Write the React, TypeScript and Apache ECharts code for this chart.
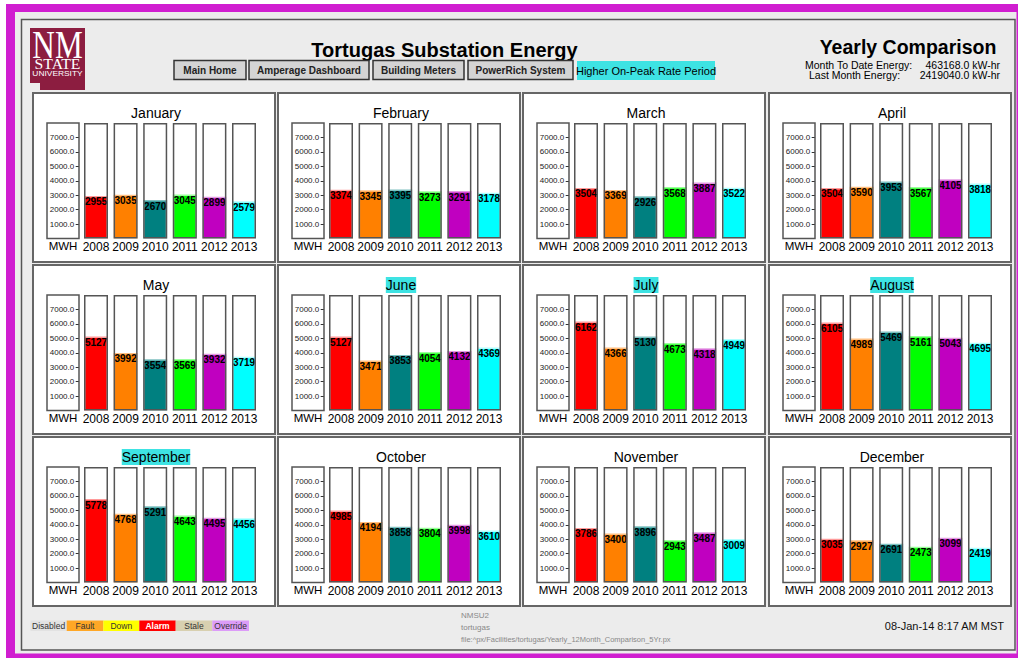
import React, { useEffect, useRef } from 'react';
import * as echarts from 'echarts';

const months = ['January', 'February', 'March', 'April', 'May', 'June', 'July', 'August', 'September', 'October', 'November', 'December'];
const highlightedMonths = ['June', 'July', 'August', 'September'];
const years = ['2008', '2009', '2010', '2011', '2012', '2013'];

// MWH per month (Jan..Dec) for each year
const v2008 = [2955, 3374, 3504, 3504, 5127, 5127, 6162, 6105, 5778, 4985, 3786, 3035];
const v2009 = [3035, 3345, 3369, 3590, 3992, 3471, 4366, 4989, 4768, 4194, 3400, 2927];
const v2010 = [2670, 3395, 2926, 3953, 3554, 3853, 5130, 5469, 5291, 3858, 3896, 2691];
const v2011 = [3045, 3273, 3568, 3567, 3569, 4054, 4673, 5161, 4643, 3804, 2943, 2473];
const v2012 = [2899, 3291, 3887, 4105, 3932, 4132, 4318, 5043, 4495, 3998, 3487, 3099];
const v2013 = [2579, 3178, 3522, 3818, 3719, 4369, 4949, 4695, 4456, 3610, 3009, 2419];
const yearValues = [v2008, v2009, v2010, v2011, v2012, v2013];

const yTicks = [1000, 2000, 3000, 4000, 5000, 6000, 7000];
const yMax = 8000;

const barColors = ['#ff0000', '#ff8000', '#008080', '#00ff00', '#c000c0', '#00ffff'];
const barTops = ['#ff9a9a', '#ffbf80', '#7fc0c0', '#9aff9a', '#e39ae3', '#b0ffff'];

const navButtons = ['Main Home', 'Amperage Dashboard', 'Building Meters', 'PowerRich System'];
const legendItems = ['Disabled', 'Fault', 'Down', 'Alarm', 'Stale', 'Override'];

const SANS = '"Liberation Sans", Arial, sans-serif';
const SERIF = '"Liberation Serif", "DejaVu Serif", serif';

export default function App() {
  const ref = useRef<HTMLDivElement>(null);

  useEffect(() => {
    const chart = echarts.init(ref.current!, null, { renderer: 'svg' });

    const colL = [33, 278, 523, 769];
    const rowT = [93, 265, 437];
    const PW = 242;
    const PH = 169;

    const grids: any[] = [];
    const xAxes: any[] = [];
    const yAxes: any[] = [];
    const series: any[] = [];
    const g: any[] = [];

    // page frame
    g.push({ type: 'rect', z: 0, shape: { x: 6, y: 4, width: 1030, height: 670 }, style: { fill: '#d01ed0' } });
    g.push({ type: 'rect', z: 0, shape: { x: 15, y: 12, width: 1001.5, height: 641.5 }, style: { fill: '#ececec' } });
    g.push({ type: 'rect', z: 0, shape: { x: 21.5, y: 19.5, width: 993.5, height: 630.5 }, style: { fill: 'none', stroke: '#555', lineWidth: 1.5 } });

    // logo
    g.push({ type: 'polygon', z: 0, shape: { points: [[30, 28], [85, 28], [85, 90], [40, 90], [40, 83], [30, 83]] }, style: { fill: '#8c1d40' } });
    g.push({ type: 'text', z: 1, x: 57.5, y: 45, scaleX: 0.78, style: { text: 'NM', x: 0, y: 0, align: 'center', verticalAlign: 'middle', font: '40px ' + SERIF, fill: '#fff' } });
    g.push({ type: 'text', z: 1, x: 57.5, y: 64, scaleX: 1.05, style: { text: 'STATE', x: 0, y: 0, align: 'center', verticalAlign: 'middle', font: '15px ' + SERIF, fill: '#fff' } });
    g.push({ type: 'text', z: 1, x: 57.5, y: 73.5, scaleX: 1.2, style: { text: 'UNIVERSITY', x: 0, y: 0, align: 'center', verticalAlign: 'middle', font: '7px ' + SANS, fill: '#fff' } });

    // header
    g.push({ type: 'text', z: 1, style: { text: 'Tortugas Substation Energy', x: 444.5, y: 50, align: 'center', verticalAlign: 'middle', font: 'bold 20px ' + SANS, fill: '#000' } });
    const btnX = [174, 249, 373, 468];
    const btnW = [72, 120, 91, 105];
    navButtons.forEach((b, i) => {
      g.push({ type: 'rect', z: 1, shape: { x: btnX[i], y: 60.5, width: btnW[i], height: 19 }, style: { fill: '#d4d4d4', stroke: '#333', lineWidth: 1.5 } });
      g.push({ type: 'text', z: 2, style: { text: b, x: btnX[i] + btnW[i] / 2, y: 70.5, align: 'center', verticalAlign: 'middle', font: 'bold 10px ' + SANS, fill: '#222' } });
    });
    g.push({ type: 'rect', z: 1, shape: { x: 577, y: 61, width: 138, height: 19 }, style: { fill: '#3ee3e3' } });
    g.push({ type: 'text', z: 2, style: { text: 'Higher On-Peak Rate Period', x: 646, y: 70.5, align: 'center', verticalAlign: 'middle', font: '11px ' + SANS, fill: '#000' } });

    g.push({ type: 'text', z: 1, style: { text: 'Yearly Comparison', x: 908, y: 47, align: 'center', verticalAlign: 'middle', font: 'bold 19.5px ' + SANS, fill: '#000' } });
    g.push({ type: 'text', z: 1, style: { text: 'Month To Date Energy:', x: 805, y: 64.5, align: 'left', verticalAlign: 'middle', font: '10.5px ' + SANS, fill: '#000' } });
    g.push({ type: 'text', z: 1, style: { text: '463168.0 kW-hr', x: 1000, y: 64.5, align: 'right', verticalAlign: 'middle', font: '10.5px ' + SANS, fill: '#000' } });
    g.push({ type: 'text', z: 1, style: { text: 'Last Month Energy:', x: 809, y: 75, align: 'left', verticalAlign: 'middle', font: '10.5px ' + SANS, fill: '#000' } });
    g.push({ type: 'text', z: 1, style: { text: '2419040.0 kW-hr', x: 1000, y: 75, align: 'right', verticalAlign: 'middle', font: '10.5px ' + SANS, fill: '#000' } });

    // footer
    const legX = [30.5, 66.7, 103.3, 139.3, 175.7, 212.3, 249];
    const legBg = ['#e2e2e2', '#ffa726', '#ffff00', '#ff0000', '#d8d0b0', '#dc9cf8'];
    const legFg = ['#333', '#333', '#333', '#fff', '#333', '#333'];
    legendItems.forEach((t, i) => {
      g.push({ type: 'rect', z: 1, shape: { x: legX[i], y: 620.5, width: legX[i + 1] - legX[i], height: 10.5 }, style: { fill: legBg[i] } });
      g.push({ type: 'text', z: 2, style: { text: t, x: (legX[i] + legX[i + 1]) / 2, y: 626, align: 'center', verticalAlign: 'middle', font: (t === 'Alarm' ? 'bold ' : '') + '8.5px ' + SANS, fill: legFg[i] } });
    });
    g.push({ type: 'text', z: 1, style: { text: 'NMSU2', x: 461, y: 615, align: 'left', verticalAlign: 'middle', font: '8px ' + SANS, fill: '#888' } });
    g.push({ type: 'text', z: 1, style: { text: 'tortugas', x: 461, y: 627, align: 'left', verticalAlign: 'middle', font: '8px ' + SANS, fill: '#888' } });
    g.push({ type: 'text', z: 1, style: { text: 'file:^px/Facilities/tortugas/Yearly_12Month_Comparison_5Yr.px', x: 461, y: 639, align: 'left', verticalAlign: 'middle', font: '7.5px ' + SANS, fill: '#888' } });
    g.push({ type: 'text', z: 1, style: { text: '08-Jan-14 8:17 AM MST', x: 1004, y: 626, align: 'right', verticalAlign: 'middle', font: '11px ' + SANS, fill: '#111' } });

    months.forEach((m, i) => {
      const L = colL[i % 4];
      const T = rowT[Math.floor(i / 4)];
      g.push({ type: 'rect', z: 0, shape: { x: L, y: T, width: PW, height: PH }, style: { fill: '#fff', stroke: '#666', lineWidth: 2 } });
      g.push({ type: 'rect', z: 0, shape: { x: L + 14, y: T + 30, width: 32, height: 115.6 }, style: { fill: '#fff', stroke: '#555', lineWidth: 1.5 } });
      g.push({ type: 'text', z: 1, style: { text: 'MWH', x: L + 30, y: T + 153, align: 'center', verticalAlign: 'middle', font: '11.5px ' + SANS, fill: '#000' } });
      const hl = highlightedMonths.includes(m);
      g.push({
        type: 'text', z: 1,
        style: {
          text: m, x: L + 123, y: T + 20, align: 'center', verticalAlign: 'middle', font: '14px ' + SANS, fill: '#000',
          backgroundColor: hl ? '#3ee3e3' : undefined, padding: hl ? [1, 0, 1, 0] : 0,
        },
      });

      grids.push({ left: L + 48.2, top: T + 30, width: 177.6, height: 115.6 });
      xAxes.push({
        gridIndex: i, type: 'category', data: years, z: 10,
        axisLine: { show: false }, axisTick: { show: false },
        axisLabel: { interval: 0, hideOverlap: false, margin: 2, fontSize: 12, color: '#000', fontFamily: SANS },
      });
      yAxes.push({
        gridIndex: i, type: 'value', min: 0, max: yMax, interval: 1000, offset: 2.5, z: 10,
        axisLine: { show: false },
        axisTick: { show: true, length: 3, customValues: yTicks, lineStyle: { color: '#333' } },
        axisLabel: { customValues: yTicks, margin: 4.5, fontSize: 8, color: '#222', fontFamily: SANS, formatter: (v: number) => v.toFixed(1) },
        splitLine: { show: false },
      });
      series.push({
        type: 'bar', xAxisIndex: i, yAxisIndex: i, barWidth: 24, z: 5,
        showBackground: true, backgroundStyle: { color: '#fff' },
        data: years.map((_, k) => ({
          value: yearValues[k][i],
          itemStyle: { color: barColors[k], borderColor: barTops[k], borderWidth: 1.5 },
        })),
        label: { show: true, position: 'insideTop', distance: 1, fontSize: 10, fontWeight: 'bold', color: '#000', fontFamily: SANS },
      });
      series.push({
        type: 'bar', xAxisIndex: i, yAxisIndex: i, barWidth: 24, barGap: '-100%', z: 6, silent: true,
        data: years.map(() => yMax),
        itemStyle: { color: 'rgba(0,0,0,0)', borderColor: '#555', borderWidth: 1.5 },
      });
    });

    chart.setOption({
      animation: false,
      backgroundColor: '#fff',
      textStyle: { fontFamily: SANS },
      grid: grids,
      xAxis: xAxes,
      yAxis: yAxes,
      series,
      graphic: { elements: g },
    });

    return () => chart.dispose();
  }, []);

  return <div ref={ref} style={{ position: 'absolute', left: 0, top: 0, width: 1018, height: 658 }} />;
}
